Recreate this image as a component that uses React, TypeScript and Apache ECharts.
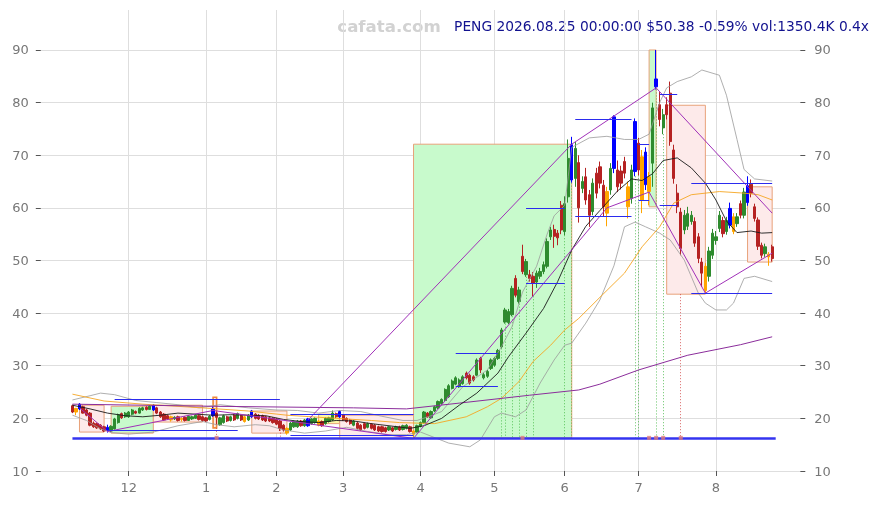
import React, { useEffect, useRef } from "react";
import * as echarts from "echarts";

// ---------- data ----------
const START = "2025-11-06";
const END = "2026-08-25";
const HOLIDAYS = ["2025-11-27", "2025-12-25", "2026-01-01", "2026-01-19", "2026-02-16", "2026-04-03", "2026-05-25", "2026-06-19", "2026-07-03"];
const PAD_L = 9;
const PAD_R = 8;

// [open, close, low, high]
const CANDLES: number[][] = [
  [22.4, 21.2, 21.0, 22.6], [21.9, 21.2, 20.6, 22.0], [21.8, 22.7, 21.6, 22.9], [22.2, 21.0, 20.9, 22.4], [21.6, 20.6, 20.4, 21.8],
  [21.0, 18.7, 18.5, 21.2], [19.1, 18.4, 18.2, 19.4], [19.0, 18.2, 18.0, 19.2], [18.7, 18.0, 17.8, 18.9], [18.4, 17.6, 17.4, 18.6],
  [18.3, 17.8, 17.3, 18.8], [17.6, 18.5, 17.4, 18.7], [18.0, 19.9, 17.9, 20.1], [19.2, 20.7, 19.0, 20.9], [20.9, 20.1, 19.9, 21.1],
  [20.3, 21.0, 20.1, 21.2], [20.3, 21.2, 20.1, 21.4], [20.8, 21.6, 20.6, 21.8], [21.3, 21.0, 20.8, 21.5], [21.0, 21.9, 20.9, 22.1],
  [21.6, 22.0, 21.4, 22.2], [22.1, 21.7, 21.5, 22.3], [21.7, 22.3, 21.6, 22.5], [21.6, 22.5, 21.4, 22.7], [22.0, 21.0, 20.8, 22.2],
  [21.2, 20.3, 20.1, 21.4], [20.8, 19.7, 19.5, 21.0], [20.5, 19.9, 19.7, 20.7], [20.3, 19.7, 19.4, 20.5], [19.9, 20.2, 19.7, 20.4],
  [20.3, 19.6, 19.4, 20.5], [19.8, 20.0, 19.4, 20.2], [20.2, 19.6, 19.4, 20.4], [19.6, 20.4, 19.5, 20.6], [19.9, 20.3, 19.7, 20.5],
  [20.0, 20.6, 19.9, 20.8], [20.5, 19.8, 19.6, 20.7], [20.3, 19.6, 19.4, 20.5], [20.1, 19.5, 19.3, 20.3], [19.8, 20.4, 19.6, 20.6],
  [20.5, 21.8, 20.3, 22.2], [21.0, 20.2, 18.8, 21.3], [18.8, 20.1, 18.6, 20.3], [19.2, 20.5, 19.0, 20.7], [20.3, 19.5, 19.3, 20.5],
  [19.6, 20.3, 19.4, 20.5], [20.6, 19.7, 19.5, 20.8], [20.0, 20.9, 19.8, 21.1], [20.5, 19.7, 19.5, 20.7], [20.3, 19.4, 19.2, 20.5],
  [19.7, 20.6, 19.5, 20.8], [20.3, 21.4, 20.1, 21.6], [20.8, 20.0, 19.8, 21.0], [20.6, 19.9, 19.7, 20.8], [20.5, 19.7, 19.5, 20.7],
  [20.3, 19.5, 19.3, 20.5], [20.1, 19.5, 19.3, 20.3], [20.0, 19.2, 19.0, 20.2], [19.9, 18.9, 18.7, 20.1], [19.5, 18.1, 17.6, 19.7],
  [18.7, 17.8, 17.5, 18.9], [18.1, 17.2, 16.9, 18.3], [17.8, 19.1, 17.6, 19.3], [18.4, 19.4, 18.2, 19.6], [18.4, 19.5, 18.2, 19.7],
  [19.5, 18.6, 18.4, 19.7], [18.6, 19.7, 18.4, 19.9], [18.6, 19.9, 18.4, 20.1], [19.0, 19.9, 18.8, 20.1], [19.2, 20.0, 19.0, 20.2],
  [19.5, 18.7, 18.5, 19.7], [19.4, 18.6, 18.4, 19.6], [19.0, 20.0, 18.8, 20.2], [19.4, 20.1, 19.2, 20.3], [19.7, 21.0, 19.5, 21.5],
  [20.9, 20.3, 20.1, 21.1], [20.3, 21.3, 20.1, 21.5], [20.6, 19.7, 19.5, 20.8], [20.0, 19.4, 19.2, 20.2], [19.7, 19.0, 18.8, 19.9],
  [18.7, 19.5, 18.5, 19.7], [19.1, 18.1, 17.9, 19.3], [18.7, 17.8, 17.6, 18.9], [19.0, 18.1, 17.9, 19.2], [18.3, 19.0, 18.1, 19.2],
  [18.9, 18.1, 17.9, 19.1], [18.7, 17.8, 17.6, 18.9], [18.4, 17.6, 17.4, 18.6], [18.4, 17.5, 17.3, 18.6], [18.2, 17.5, 17.3, 18.4],
  [17.8, 18.4, 17.6, 18.6], [18.2, 17.6, 17.4, 18.4], [17.9, 18.4, 17.7, 18.6], [18.4, 17.8, 17.6, 18.6], [17.9, 18.6, 17.7, 18.8],
  [18.1, 18.7, 17.9, 18.9], [18.4, 17.5, 17.3, 18.6], [17.6, 17.0, 16.2, 17.8], [17.4, 18.6, 17.2, 18.8], [18.5, 19.2, 18.3, 19.4],
  [19.2, 21.2, 19.0, 21.4], [21.0, 20.3, 20.1, 21.2], [20.1, 21.3, 19.9, 21.5], [21.4, 22.2, 21.2, 22.4], [22.0, 23.2, 21.8, 23.4],
  [22.8, 23.6, 22.6, 23.8], [23.4, 25.5, 23.2, 25.7], [24.1, 26.2, 23.9, 26.5], [25.7, 27.1, 25.5, 27.4], [26.5, 27.7, 26.3, 28.0],
  [26.0, 27.3, 25.8, 27.6], [26.6, 27.9, 26.4, 28.2], [28.6, 27.7, 27.4, 28.9], [28.2, 26.7, 26.4, 28.5], [27.9, 27.3, 27.0, 28.2],
  [28.2, 31.1, 28.0, 31.4], [31.4, 29.2, 28.6, 31.7], [27.7, 28.3, 27.4, 28.6], [28.0, 28.9, 27.7, 29.2], [29.5, 31.1, 29.2, 31.4],
  [30.1, 31.4, 29.8, 31.7], [31.4, 32.9, 31.1, 33.2], [33.6, 36.8, 33.3, 37.2], [38.3, 40.6, 38.0, 41.0], [38.2, 40.3, 37.9, 40.8],
  [39.7, 44.7, 39.4, 45.2], [46.6, 43.4, 43.0, 47.2], [42.2, 44.4, 41.8, 45.0], [50.8, 47.9, 47.4, 53.0], [47.3, 49.8, 46.9, 50.3],
  [47.3, 46.6, 46.0, 48.2], [47.0, 45.7, 43.2, 47.8], [45.9, 47.6, 44.8, 48.1], [47.0, 47.9, 46.5, 48.6], [47.9, 49.2, 47.4, 49.8],
  [48.9, 53.6, 48.5, 54.2], [54.5, 55.8, 53.9, 56.4], [55.9, 54.6, 52.4, 56.8], [55.2, 54.3, 52.9, 55.8], [60.5, 55.8, 55.0, 61.3],
  [55.5, 60.8, 54.8, 62.2], [62.1, 69.4, 61.0, 73.0], [65.3, 72.0, 64.8, 73.5], [65.6, 71.3, 64.0, 72.5], [68.6, 60.0, 57.2, 70.0],
  [63.7, 65.0, 62.8, 66.0], [65.9, 61.5, 60.6, 67.6], [62.5, 58.6, 56.4, 63.4], [59.3, 64.7, 58.6, 65.6], [66.6, 62.8, 61.8, 67.6],
  [67.8, 64.7, 63.7, 68.8], [64.3, 60.2, 58.3, 65.3], [63.1, 59.0, 56.5, 64.0], [63.4, 67.5, 62.5, 68.5], [67.5, 77.3, 66.6, 77.6],
  [67.2, 64.0, 63.0, 69.0], [67.0, 64.7, 63.5, 68.0], [68.8, 66.6, 65.6, 69.7], [64.0, 60.2, 58.0, 65.0], [61.8, 67.2, 60.8, 68.2],
  [66.9, 76.4, 66.0, 77.0], [72.3, 67.2, 66.2, 73.3], [69.7, 61.5, 59.0, 71.0], [64.4, 70.6, 63.4, 71.5], [65.9, 63.1, 60.5, 66.8],
  [68.5, 79.0, 64.0, 80.0], [83.0, 84.5, 82.5, 90.0], [79.6, 76.8, 75.5, 82.0], [75.2, 77.7, 74.0, 78.8], [79.6, 77.7, 76.8, 81.0],
  [81.8, 72.6, 71.8, 84.0], [71.0, 65.6, 64.6, 72.0], [62.8, 60.2, 59.0, 64.5], [59.2, 52.3, 51.0, 60.0], [55.8, 58.6, 55.0, 59.6],
  [56.5, 58.9, 55.8, 60.2], [57.4, 58.6, 56.8, 59.4], [57.4, 53.3, 52.6, 58.2], [54.5, 50.4, 49.5, 55.2], [49.7, 47.6, 45.0, 50.5],
  [44.3, 48.9, 43.7, 49.5], [47.0, 51.8, 46.0, 52.6], [51.0, 55.2, 50.3, 56.0], [53.8, 54.5, 53.0, 55.6], [56.1, 58.6, 55.4, 59.4],
  [57.6, 55.1, 54.4, 58.3], [55.5, 57.6, 54.9, 58.3], [56.7, 59.9, 56.1, 61.0], [58.3, 55.5, 55.0, 59.0], [57.0, 58.3, 56.4, 59.0],
  [60.8, 58.6, 58.0, 61.4], [58.6, 63.0, 58.0, 63.8], [61.0, 64.2, 60.4, 66.0], [64.5, 62.8, 62.0, 65.4], [60.2, 58.0, 57.4, 60.8],
  [57.7, 52.7, 52.0, 58.2], [52.9, 51.0, 50.4, 53.4], [51.3, 52.6, 50.7, 53.2], [51.2, 50.68, 49.0, 51.6], [52.6, 50.38, 49.8, 53.0],
];

const BLUE_IDX = [2, 10, 23, 40, 51, 67, 76, 142, 154, 160, 163, 166, 187, 192];
const ORANGE_IDX = [1, 28, 31, 49, 61, 70, 97, 152, 158, 162, 164, 180, 188, 198];

// [candle index, value] readings
const MA_BLACK = [[0, 22.5], [5, 21.8], [10, 21.0], [15, 20.5], [20, 20.3], [25, 20.6], [30, 21.0], [35, 20.8], [40, 20.6], [45, 20.7], [50, 20.6], [55, 20.5], [60, 19.8], [65, 19.4], [70, 19.2], [75, 19.6], [80, 19.5], [85, 19.0], [90, 18.6], [96, 18.1], [100, 18.6], [105, 20.0], [110, 22.5], [115, 24.8], [121, 28.6], [124, 31.7], [129, 36.2], [134, 40.9], [138, 46.0], [142, 52.0], [146, 56.5], [150, 59.5], [155, 63.2], [159, 65.5], [162, 65.2], [165, 66.5], [168, 69.0], [172, 69.5], [176, 67.6], [180, 64.7], [183, 61.5], [186, 57.5], [189, 55.3], [193, 55.6], [196, 55.2], [199, 55.3]];
const MA_ORANGE = [[0, 24.6], [9, 23.3], [20, 22.7], [37, 22.0], [50, 21.4], [61, 20.6], [75, 20.0], [85, 19.6], [93, 19.2], [103, 19.0], [112, 20.3], [118, 22.2], [122, 23.8], [127, 27.0], [131, 30.8], [136, 33.9], [140, 36.8], [144, 39.0], [150, 43.0], [157, 47.6], [162, 52.6], [167, 56.4], [171, 60.9], [176, 62.5], [184, 63.1], [191, 62.8], [195, 62.5], [199, 61.5]];
const MA_PURPLE = [[0, 22.7], [40, 22.3], [80, 22.0], [95, 21.8], [110, 22.9], [130, 24.4], [144, 25.4], [150, 26.5], [161, 29.2], [175, 32.0], [190, 34.0], [199, 35.5]];
const BB_UPPER = [[0, 23.5], [5, 24.3], [8, 24.8], [12, 24.5], [18, 23.4], [24, 23.0], [30, 22.6], [36, 22.0], [42, 22.6], [50, 22.0], [58, 21.6], [64, 21.5], [70, 21.0], [76, 21.5], [82, 21.3], [88, 20.4], [94, 19.6], [98, 19.6], [102, 20.5], [105, 21.3], [111, 26.0], [118, 29.2], [122, 33.6], [125, 37.4], [128, 44.0], [132, 48.9], [135, 55.0], [137, 58.5], [140, 60.5], [141, 66.0], [142, 71.5], [147, 73.3], [152, 73.6], [157, 73.0], [161, 73.0], [164, 74.0], [167, 80.0], [169, 82.8], [172, 84.0], [176, 84.9], [179, 86.2], [184, 85.2], [186, 81.4], [189, 73.0], [191, 67.3], [194, 65.5], [199, 65.1]];
const BB_LOWER = [[0, 20.6], [4, 19.6], [8, 18.0], [11, 17.3], [16, 17.0], [23, 17.4], [30, 18.6], [37, 19.4], [41, 18.8], [46, 18.4], [52, 18.8], [56, 18.6], [60, 17.8], [66, 17.2], [72, 17.6], [78, 18.3], [84, 17.5], [90, 16.9], [95, 16.9], [99, 17.4], [107, 15.3], [113, 14.6], [116, 15.9], [120, 20.3], [122, 21.0], [126, 20.3], [129, 21.6], [133, 26.7], [137, 31.1], [140, 33.9], [142, 34.3], [146, 38.1], [150, 42.5], [154, 49.0], [157, 56.4], [160, 57.3], [163, 56.4], [167, 55.2], [170, 53.9], [174, 50.1], [178, 43.8], [180, 41.9], [183, 40.6], [186, 40.6], [188, 41.9], [191, 46.6], [194, 47.0], [199, 46.0]];

// boxes: [start idx, end idx, top, bottom, kind]
const BOXES: [number, number, number, number, string][] = [
  [2, 9, 22.5, 17.4, "dn"], [11, 23, 22.3, 17.2, "up"], [23, 37, 22.5, 19.3, "dn"], [40, 41, 24.0, 18.2, "sp"],
  [51, 61, 21.4, 17.2, "dn"], [70, 76, 20.8, 19.0, "flat"], [76, 97, 20.6, 16.1, "dn"], [97, 142, 72.1, 16.3, "up"],
  [164, 166, 90.0, 60.2, "up"], [169, 180, 79.5, 43.6, "dn"], [192, 199, 64.0, 49.7, "dn"],
];

const BASE_LEVEL = 16.3;
// blue levels: [value, start idx, end idx]
const LEVELS: [number, number, number][] = [
  [23.6, 12, 59], [17.7, 10, 47], [20.8, 62, 97], [16.8, 62, 97], [32.4, 109, 121], [26.1, 109, 121],
  [60.0, 129, 140], [45.7, 129, 140], [76.9, 143, 159], [58.5, 143, 159], [72.1, 161, 164], [61.5, 161, 164],
  [81.6, 167, 172], [60.5, 167, 172], [64.7, 176, 199], [43.8, 176, 199],
];
// purple trend segments: [i1, v1, i2, v2]
const TRENDS: [number, number, number, number][] = [
  [67, 19.7, 142, 72.1], [142, 72.1, 166, 82.8], [166, 82.8, 199, 59.0],
  [97, 16.2, 152, 60.0], [152, 60.0, 164, 63.0], [164, 63.0, 180, 43.8], [180, 43.8, 199, 51.4],
  [2, 22.0, 10, 17.5], [10, 17.5, 40, 21.5], [40, 21.5, 97, 16.2],
];
const GREEN_DOTS = [122, 123, 125, 127, 129, 131, 140, 142, 160, 161, 166, 168];
const RED_DOTS: [number, number][] = [[41, 18.2], [59, 19.0], [173, 43.6]];
const RED_MARKS = [41, 128, 164, 166, 168, 173];

const HEADER_SITE = "cafata.com";
const HEADER_INFO = "PENG 2026.08.25 00:00:00 $50.38 -0.59% vol:1350.4K 0.4x";

// ---------- helpers ----------
function tradingDays(): string[] {
  const hol = new Set(HOLIDAYS);
  const out: string[] = [];
  const [sy, sm, sd] = START.split("-").map(Number);
  const [ey, em, ed] = END.split("-").map(Number);
  let t = Date.UTC(sy, sm - 1, sd);
  const end = Date.UTC(ey, em - 1, ed);
  while (t <= end) {
    const d = new Date(t);
    const wd = d.getUTCDay();
    const s = d.toISOString().slice(0, 10);
    if (wd !== 0 && wd !== 6 && !hol.has(s)) out.push(s);
    t += 86400000;
  }
  return out;
}

export default function App() {
  const ref = useRef<HTMLDivElement>(null);
  useEffect(() => {
    if (!ref.current) return;
    const chart = echarts.init(ref.current, undefined, { renderer: "svg" });
    const dates = tradingDays();
    const cats = [
      ...Array.from({ length: PAD_L }, (_, k) => "L" + k),
      ...dates,
      ...Array.from({ length: PAD_R }, (_, k) => "R" + k),
    ];
    const monthStart = new Set<number>();
    for (let i = 1; i < dates.length; i++) {
      if (dates[i].slice(5, 7) !== dates[i - 1].slice(5, 7)) monthStart.add(i + PAD_L);
    }
    const isMS = (idx: number) => monthStart.has(idx);
    const X = (i: number) => i + PAD_L;
    const pts = (arr: number[][]) => arr.map(([i, v]) => [X(i), v]);

    const blueSt = { color: "#0000ff", color0: "#0000ff", borderColor: "#0000ff", borderColor0: "#0000ff" };
    const orangeSt = { color: "#ffa500", color0: "#ffa500", borderColor: "#ffa500", borderColor0: "#ffa500" };
    const candleData = CANDLES.map((c, i) => {
      const v = [X(i), ...c];
      if (BLUE_IDX.includes(i)) return { value: v, itemStyle: blueSt };
      if (ORANGE_IDX.includes(i)) return { value: v, itemStyle: orangeSt };
      return v;
    });

    const boxFill: Record<string, string> = { up: "#c8facc", dn: "#fdeaea", sp: "#fdeaea", flat: "#fbf7a6" };
    const areaData = BOXES.map(([a, b, top, bot, kind]) => [
      {
        coord: [X(a), top],
        itemStyle: {
          color: boxFill[kind],
          borderColor: kind === "sp" ? "#f08a3c" : "#e8a27a",
          borderWidth: kind === "sp" ? 1.6 : 1,
        },
      },
      { coord: [X(b), bot] },
    ]);

    const blueLines: any[] = [
      [{ coord: [X(0), BASE_LEVEL], lineStyle: { color: "#3434f0", width: 2.5, type: "solid" } }, { coord: [X(200), BASE_LEVEL] }],
      ...LEVELS.map(([v, a, b]) => [
        { coord: [X(a), v], lineStyle: { color: "#2b2bee", width: 1, type: "solid" } },
        { coord: [X(b), v] },
      ]),
    ];
    const trendLines = TRENDS.map(([a, va, b, vb]) => [
      { coord: [X(a), va], lineStyle: { color: "#a030b8", width: 1, type: "solid" } },
      { coord: [X(b), vb] },
    ]);
    const dotLines = [
      ...GREEN_DOTS.map((i) => [
        { coord: [X(i), CANDLES[i][2]], lineStyle: { color: "#3cb43c", width: 0.8, type: [1, 2] } },
        { coord: [X(i), BASE_LEVEL] },
      ]),
      ...RED_DOTS.map(([i, v]) => [
        { coord: [X(i), v], lineStyle: { color: "#d04040", width: 0.8, type: [1, 2] } },
        { coord: [X(i), BASE_LEVEL] },
      ]),
    ];
    const markerLine = (data: any[], z: number) => ({
      type: "line",
      data: [],
      silent: true,
      z,
      markLine: { silent: true, symbol: ["none", "none"], label: { show: false }, animation: false, data, z },
    });
    const maLine = (data: number[][], color: string, width: number, z = 4) => ({
      type: "line",
      data: pts(data),
      symbol: "none",
      silent: true,
      z,
      lineStyle: { color, width },
    });

    const option: any = {
      animation: false,
      textStyle: { fontFamily: "DejaVu Sans" },
      grid: { left: 40.8, right: 78.7, top: 10, bottom: 34 },
      xAxis: {
        type: "category",
        data: cats,
        boundaryGap: false,
        axisLine: { show: false },
        axisTick: { show: true, interval: isMS, length: 5, lineStyle: { color: "#555" } },
        axisLabel: {
          interval: isMS,
          color: "#777",
          fontSize: 13,
          margin: 10,
          formatter: (v: string) => (v.length === 10 ? String(parseInt(v.slice(5, 7), 10)) : ""),
        },
        splitLine: { show: true, interval: isMS, lineStyle: { color: "#dedede", width: 1 } },
      },
      yAxis: [
        {
          type: "value",
          min: 10,
          max: 97.6,
          interval: 10,
          position: "left",
          axisLine: { show: false },
          axisTick: { show: true, length: 5, lineStyle: { color: "#555" } },
          axisLabel: { color: "#777", fontSize: 13, margin: 12, showMaxLabel: false },
          splitLine: { show: true, showMaxLine: false, lineStyle: { color: "#dedede", width: 1 } },
        },
        {
          type: "value",
          min: 10,
          max: 97.6,
          interval: 10,
          position: "right",
          axisLine: { show: false },
          axisTick: { show: true, length: 5, lineStyle: { color: "#555" } },
          axisLabel: { color: "#777", fontSize: 13, margin: 14, showMaxLabel: false },
          splitLine: { show: false },
        },
      ],
      graphic: [
        {
          type: "text",
          x: 389,
          y: 26,
          silent: true,
          style: { text: HEADER_SITE, fill: "#d2d2d2", fontSize: 16.6, fontWeight: "bold", fontFamily: "DejaVu Sans", align: "center", verticalAlign: "middle" },
        },
        {
          type: "text",
          x: 869,
          y: 26,
          silent: true,
          style: { text: HEADER_INFO, fill: "#12128f", fontSize: 13.8, fontFamily: "DejaVu Sans", align: "right", verticalAlign: "middle" },
        },
      ],
      series: [
        {
          type: "line",
          data: [],
          silent: true,
          z: 1,
          markArea: { silent: true, label: { show: false }, data: areaData, z: 1 },
        },
        markerLine(dotLines, 2),
        {
          type: "candlestick",
          data: candleData,
          encode: { x: 0, y: [1, 2, 3, 4] },
          barWidth: 2.8,
          silent: true,
          z: 3,
          itemStyle: { color: "#2e8b2e", color0: "#b52222", borderColor: "#2e8b2e", borderColor0: "#b52222", borderWidth: 1 },
        },
        maLine(BB_UPPER, "#9a9a9a", 0.8),
        maLine(BB_LOWER, "#9a9a9a", 0.8),
        maLine(MA_ORANGE, "#f5a623", 0.9),
        maLine(MA_PURPLE, "#8b2d9b", 1),
        maLine(MA_BLACK, "#1a1a1a", 0.9),
        markerLine(trendLines, 5),
        markerLine(blueLines, 6),
        {
          type: "scatter",
          data: RED_MARKS.map((i) => [X(i), BASE_LEVEL]),
          symbol: "rect",
          symbolSize: [4, 4],
          silent: true,
          z: 7,
          itemStyle: { color: "#e07a7a" },
        },
      ],
    };
    chart.setOption(option);
    return () => chart.dispose();
  }, []);
  return <div ref={ref} style={{ position: "fixed", left: 0, top: 0, width: 879, height: 505 }} />;
}
